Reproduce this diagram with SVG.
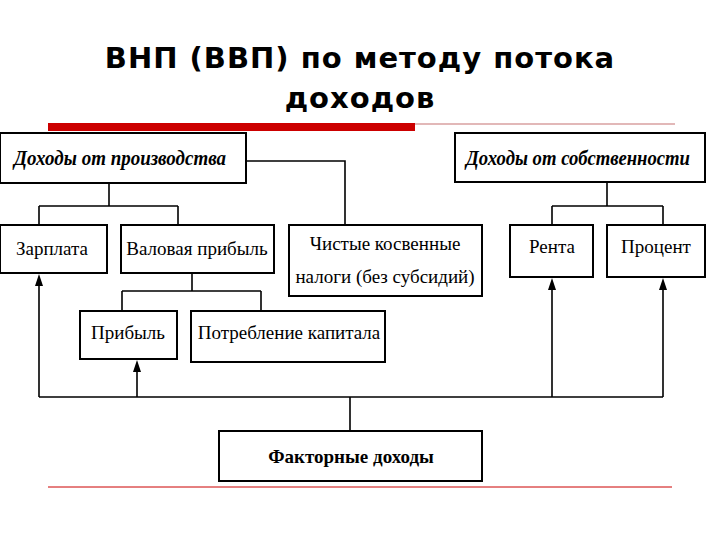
<svg xmlns="http://www.w3.org/2000/svg" width="720" height="540" viewBox="0 0 720 540">
<defs>
<style>
.b{fill:#fff;stroke:#000;stroke-width:2}
.t{font-family:"Liberation Serif",serif;font-size:19px;fill:#000;text-anchor:middle}
.h{font-style:italic;font-weight:bold;font-size:20px}
.c{fill:none;stroke:#000;stroke-width:1.6}
.ah{fill:#000;stroke:none}
</style>
</defs>
<rect width="720" height="540" fill="#fff"/>
<text x="360" y="68" font-family="'DejaVu Sans',sans-serif" font-weight="bold" font-size="29" text-anchor="middle" letter-spacing="1">ВНП (ВВП) по методу потока</text>
<text x="360" y="108" font-family="'DejaVu Sans',sans-serif" font-weight="bold" font-size="29" text-anchor="middle" letter-spacing="1">доходов</text>
<rect x="48" y="123" width="367" height="8" fill="#cc0000"/>
<line x1="415" y1="124" x2="675" y2="124" stroke="#d9a0a0" stroke-width="1.5"/>
<line x1="48" y1="487" x2="672" y2="487" stroke="#cc0000" stroke-width="1"/>
<g id="connectors">
<g class="c">
<path d="M246 161H345V225"/>
<path d="M109 183V206M39 206H178M178 206V225M39 206V225"/>
<path d="M607 182V206M552 206H663M552 206V225M663 206V225"/>
<path d="M192 273V291M122 291H261M122 291V311M261 291V311"/>
<path d="M39 397H663M350 397V431"/>
<path d="M39 397V284M137 397V370M552 397V288M663 397V288"/>
</g>
<path class="ah" d="M39 274L43 286H35Z"/>
<path class="ah" d="M137 360L141 372H133Z"/>
<path class="ah" d="M552 278L556 290H548Z"/>
<path class="ah" d="M663 278L667 290H659Z"/>
</g>
<g id="prod"><rect class="b" x="0" y="133" width="246" height="50"/><text class="t h" x="120" y="165" textLength="212" lengthAdjust="spacingAndGlyphs">Доходы от производства</text></g>
<g id="sobst"><rect class="b" x="455" y="133" width="250" height="49"/><text class="t h" x="578" y="165" textLength="224" lengthAdjust="spacingAndGlyphs">Доходы от собственности</text></g>
<g id="zarplata"><rect class="b" x="0" y="225" width="107" height="48"/><text class="t" x="52" y="255">Зарплата</text></g>
<g id="valovaya"><rect class="b" x="121" y="225" width="153" height="48"/><text class="t" x="197" y="255">Валовая прибыль</text></g>
<g id="nalogi"><rect class="b" x="289" y="225" width="193" height="71"/><text class="t" x="385" y="250">Чистые косвенные</text><text class="t" x="385" y="283">налоги (без субсидий)</text></g>
<g id="renta"><rect class="b" x="510" y="225" width="83" height="52"/><text class="t" x="552" y="253">Рента</text></g>
<g id="procent"><rect class="b" x="607" y="225" width="98" height="52"/><text class="t" x="656" y="253">Процент</text></g>
<g id="pribyl"><rect class="b" x="80" y="311" width="97" height="48"/><text class="t" x="128" y="339">Прибыль</text></g>
<g id="potreblenie"><rect class="b" x="191" y="311" width="194" height="51"/><text class="t" x="289" y="339">Потребление капитала</text></g>
<g id="faktornye"><rect class="b" x="219" y="431" width="263" height="50"/><text class="t" x="351" y="463" font-weight="bold">Факторные доходы</text></g>
</svg>
